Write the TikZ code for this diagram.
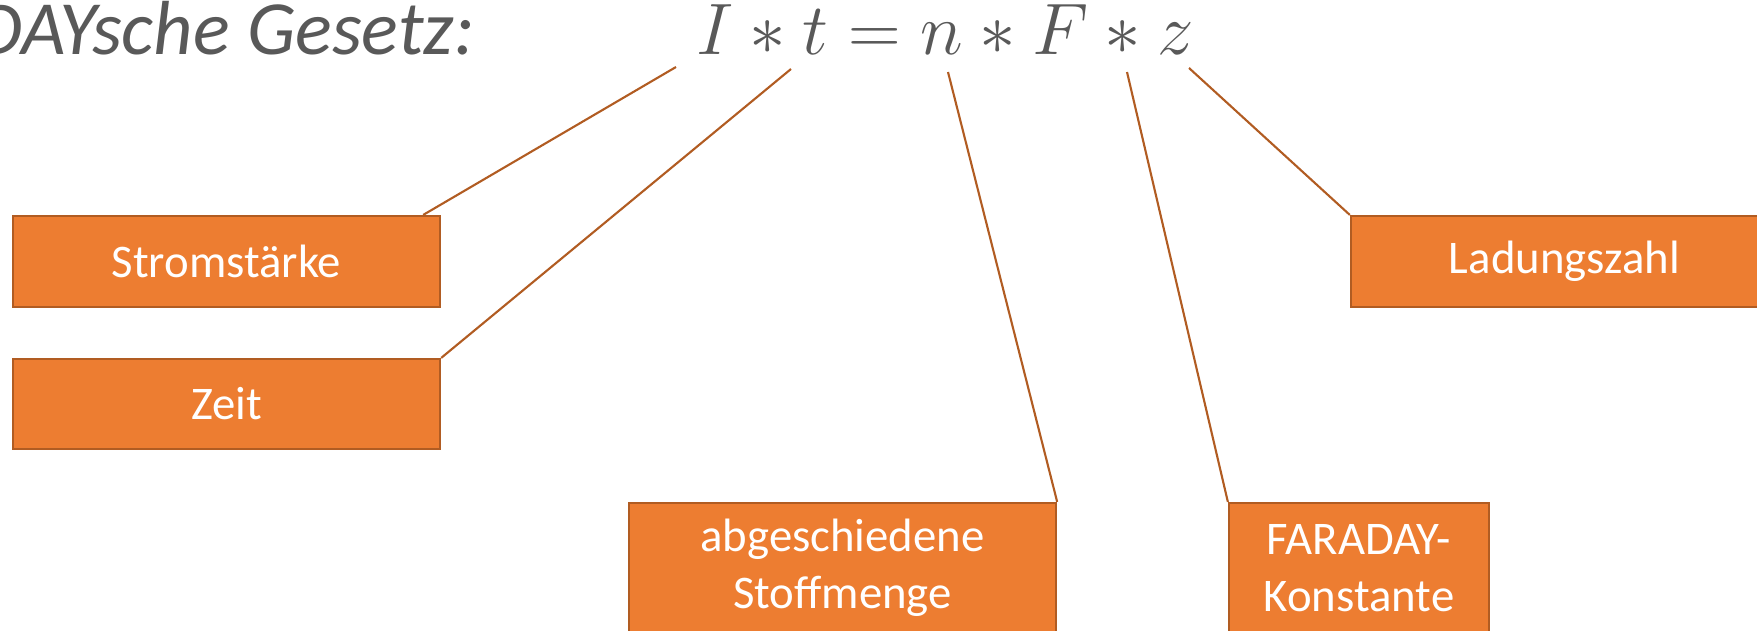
\documentclass[tikz,border=0pt]{standalone}
\usepackage{fontspec}
\setmainfont{Carlito}
\usetikzlibrary{calc}

\definecolor{boxorange}{HTML}{ED7D31}
\definecolor{boxedge}{HTML}{B15C22}
\definecolor{titlegray}{HTML}{595959}

\begin{document}
\begin{tikzpicture}[x=0.01cm,y=-0.01cm]
% % Styles
 \tikzset{
 	labelbox/.style={draw=boxedge, line width=0.6pt, fill=boxorange, text=white,
 		font=\fontsize{13.3}{16.3}\selectfont, align=center, inner sep=0pt},
 	pointer/.style={draw=boxedge, line width=0.6pt}
 }
 \useasboundingbox (0,0) rectangle (1757,630);
 \clip (0,0) rectangle (1757,630);
% % Heading and formula
 \node[anchor=base east, text=titlegray, font=\fontsize{21.8}{26}\itshape] (title) at (487,54) {DAYsche Gesetz:};
 \node[anchor=base, text=titlegray, font=\fontsize{22.2}{26}\selectfont, inner sep=0pt] (eq) at (945,54) {$I * t = n * F * z$};
 % line ends under the symbols
 \coordinate (cI) at (676,67);
 \coordinate (ct) at (791,69);
 \coordinate (cn) at (948,72);
 \coordinate (cF) at (1127,72);
 \coordinate (cz) at (1189,68);
% % Boxes
 \node[labelbox, minimum width=4.27cm, minimum height=0.91cm] (strom) at (226.5,261.5) {Stromstärke};
 \node[labelbox, minimum width=4.27cm, minimum height=0.90cm] (zeit) at (226.5,404) {Zeit};
 \node[labelbox, minimum width=4.27cm, minimum height=1.30cm] (stoff) at (842.5,568) {abgeschiedene\\Stoffmenge};
 \node[labelbox, minimum width=2.60cm, minimum height=1.30cm] (faraday) at (1359,568) {FARADAY-\\Konstante};
 \node[labelbox, minimum width=4.27cm, minimum height=0.91cm] (ladung) at (1564.5,261.5) {Ladungszahl};
% % Pointers
 \draw[pointer] (cI) -- ($(strom.north east)+(-18,0)$);
 \draw[pointer] (ct) -- (zeit.north east);
 \draw[pointer] (cn) -- (stoff.north east);
 \draw[pointer] (cF) -- (faraday.north west);
 \draw[pointer] (cz) -- (ladung.north west);
\end{tikzpicture}
\end{document}
